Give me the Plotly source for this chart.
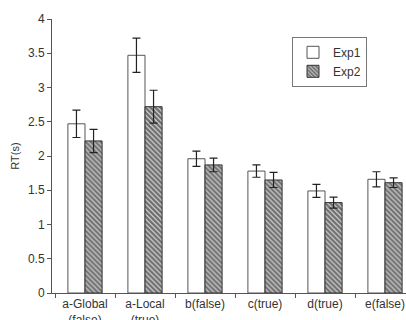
import plotly.graph_objects as go

# Mean response times (s) per condition, with error-bar half-widths
categories = ["a-Global<br>(false)", "a-Local<br>(true)", "b(false)", "c(true)", "d(true)", "e(false)"]
exp1_rt = [2.47, 3.47, 1.96, 1.78, 1.49, 1.66]
exp1_err = [0.20, 0.25, 0.11, 0.09, 0.095, 0.11]
exp2_rt = [2.22, 2.72, 1.87, 1.65, 1.32, 1.61]
exp2_err = [0.17, 0.24, 0.10, 0.11, 0.08, 0.07]
y_ticks = [0, 0.5, 1, 1.5, 2, 2.5, 3, 3.5, 4]
y_tick_text = ["0", "0.5", "1", "1.5", "2", "2.5", "3", "3.5", "4"]

font_family = "Liberation Sans, Arial, sans-serif"
ink = "#333333"

fig = go.Figure()
fig.add_trace(go.Bar(
    name="Exp1", x=categories, y=exp1_rt,
    marker=dict(color="white", line=dict(color="#555555", width=1)),
    error_y=dict(type="data", array=exp1_err, color="#222222", thickness=1.2, width=4),
))
fig.add_trace(go.Bar(
    name="Exp2", x=categories, y=exp2_rt,
    marker=dict(color="white", line=dict(color="#333333", width=1),
                pattern=dict(shape="\\", fgcolor="#111111", bgcolor="#c8c8c8",
                             size=3.5, solidity=0.6)),
    error_y=dict(type="data", array=exp2_err, color="#222222", thickness=1.2, width=4),
))

fig.update_layout(
    width=406, height=320,
    margin=dict(l=52, r=0, t=19, b=27),
    paper_bgcolor="white", plot_bgcolor="white",
    barmode="group", bargap=0.43, bargroupgap=0,
    font=dict(family=font_family, size=11, color=ink),
    showlegend=True,
    legend=dict(x=0.678, y=0.935, xanchor="left", yanchor="top",
                bgcolor="white", bordercolor="#777777", borderwidth=1,
                font=dict(size=12, color=ink), itemwidth=30,
                tracegroupgap=2),
    xaxis=dict(
        type="category", range=[-0.55, 5.35], automargin=False,
        showline=True, linecolor="#555555", linewidth=1,
        ticks="outside", tickson="boundaries", ticklen=4, tickcolor="#555555",
        tickfont=dict(size=12, color=ink), showgrid=False, zeroline=False,
    ),
    yaxis=dict(
        range=[0, 4], tickvals=y_ticks, ticktext=y_tick_text, automargin=False,
        showline=True, linecolor="#555555", linewidth=1,
        ticks="outside", ticklen=4, tickcolor="#555555",
        tickfont=dict(size=12, color=ink), showgrid=False, zeroline=False,
        title=dict(text="RT(s)", font=dict(size=11, color=ink), standoff=6),
    ),
)

fig.write_html("out.html")
